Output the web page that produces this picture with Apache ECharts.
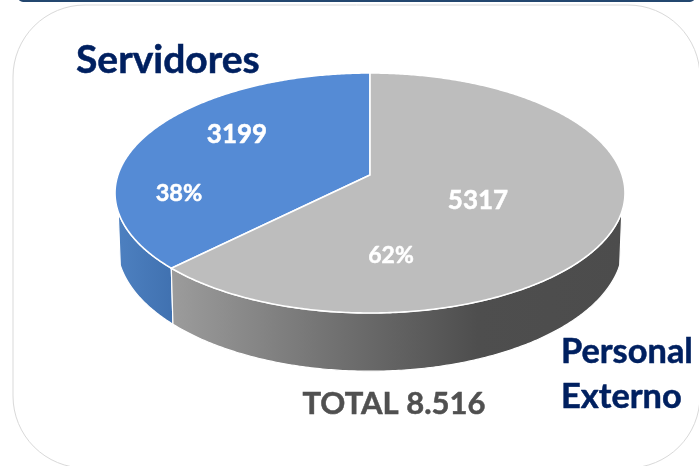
<!DOCTYPE html>
<html>
<head>
<meta charset="utf-8">
<style>html,body{margin:0;padding:0;background:#fff}#c{width:699px;height:466px}</style>
<script src="https://cdn.jsdelivr.net/npm/echarts@6/dist/echarts.min.js"></script>
</head>
<body>
<div id="c"></div>
<script>
var categories = ['Servidores', 'Personal Externo'];
var values = [3199, 5317];
var totalLabel = 'TOTAL 8.516';

var FONT = 'Lato, "Open Sans", sans-serif';
var total = values.reduce(function (a, b) { return a + b; }, 0);

// perspective disc model: theta runs counter-clockwise from 12 o'clock (radians)
var cx = 370, k = 0.15;
var topMap = { a: 252.1, c: 117.3, cy: 175 };
var lowMap = { a: 250, c: 123, cy: 226.5 };
var wallLimit = 107.5 * Math.PI / 180;

function project(m, th) {
  var x = -Math.sin(th), y = Math.cos(th), d = 1 + k * y;
  return [cx + x * m.a / d, m.cy - y * m.c / d];
}
function arc(m, t0, t1) {
  var pts = [], n = Math.max(2, Math.ceil(Math.abs(t1 - t0) / 0.01));
  for (var i = 0; i <= n; i++) pts.push(project(m, t0 + (t1 - t0) * i / n));
  return pts;
}

var wallFills = [
  new echarts.graphic.LinearGradient(0, 0, 1, 0, [
    { offset: 0, color: '#4d80c0' }, { offset: 1, color: '#4071b0' }
  ]),
  new echarts.graphic.LinearGradient(0, 0, 1, 0, [
    { offset: 0, color: '#9c9c9c' }, { offset: 0.38, color: '#6f6f6f' },
    { offset: 0.68, color: '#4e4e4e' }, { offset: 1, color: '#4c4c4c' }
  ])
];
var topFills = ['#558bd5', '#bdbdbd'];

var rows = categories.map(function (c, i) { return [i, values[i]]; });

function renderSlice(params, api) {
  var i = api.value(0);
  var before = 0;
  for (var j = 0; j < i; j++) before += values[j];
  var t0 = before / total * Math.PI * 2;
  var t1 = (before + api.value(1)) / total * Math.PI * 2;
  var children = [];
  // outer wall: visible part of the rim only
  var w0 = Math.max(t0, wallLimit), w1 = Math.min(t1, Math.PI * 2 - wallLimit);
  if (w1 > w0) {
    var wall = arc(topMap, w0, w1).concat(arc(lowMap, w1, w0));
    children.push({
      type: 'polygon', shape: { points: wall },
      style: { fill: wallFills[i], stroke: '#fff', lineWidth: 1.2 }
    });
  }
  return { type: 'group', children: children.concat([{
    type: 'polygon',
    z2: 5,
    shape: { points: [[cx, topMap.cy]].concat(arc(topMap, t0, t1)) },
    style: { fill: topFills[i], stroke: '#fff', lineWidth: 1.6 }
  }]) };
}

function pct(i) { return Math.round(values[i] / total * 100) + '%'; }
function txt(x, y, s, size, color, align) {
  return { type: 'text', x: x, y: y, z: 20,
    style: { text: s, fill: color, font: 'bold ' + size + 'px ' + FONT, textAlign: align || 'center', textVerticalAlign: 'middle',
      stroke: color, lineWidth: 0.5 } };
}

var chart = echarts.init(document.getElementById('c'), null, { renderer: 'canvas' });
chart.setOption({
  animation: false,
  backgroundColor: '#fff',
  graphic: [
    { type: 'rect', z: 0, shape: { x: 13, y: 5, width: 687, height: 463, r: 72 },
      style: { fill: '#fff', stroke: '#d9d9d9', lineWidth: 1 } },
    { type: 'rect', z: 1, shape: { x: 18, y: -12, width: 677, height: 14, r: 5 },
      style: { fill: '#23476f' } },
    txt(76, 60, categories[0], 39, '#002060', 'left'),
    txt(561, 352, 'Personal', 34.4, '#002060', 'left'),
    txt(561, 397, 'Externo', 34.4, '#002060', 'left'),
    txt(394, 404, totalLabel, 31, '#505050'),
    txt(237, 135, String(values[0]), 26, '#fff'),
    txt(179, 193, pct(0), 23.5, '#fff'),
    txt(478, 201, String(values[1]), 26, '#fff'),
    txt(391, 256, pct(1), 23, '#fff')
  ],
  series: [{
    type: 'custom',
    coordinateSystem: 'none',
    renderItem: renderSlice,
    data: rows,
    silent: true,
    z: 5
  }]
});
</script>
</body>
</html>
